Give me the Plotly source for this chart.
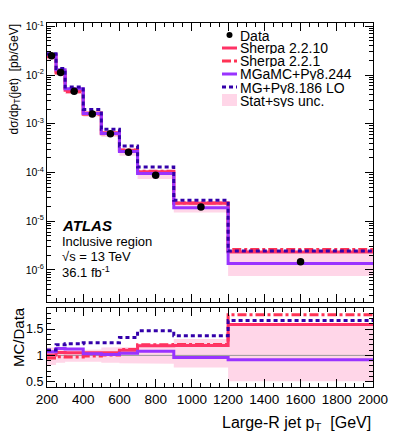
import plotly.graph_objects as go

# ---------------- data ----------------
bin_edges = [200, 250, 300, 400, 500, 600, 700, 900, 1200, 2000]
data_xsec = [2.48e-2, 1.13e-2, 4.65e-3, 1.58e-3, 6.2e-4, 2.6e-4, 8.8e-5, 1.96e-5, 1.48e-6]
sherpa_2210 = [2.50e-2, 1.19e-2, 4.88e-3, 1.66e-3, 6.51e-4, 2.86e-4, 1.04e-4, 2.33e-5, 2.35e-6]
sherpa_221 = [2.36e-2, 1.10e-2, 4.51e-3, 1.56e-3, 6.26e-4, 2.89e-4, 1.06e-4, 2.37e-5, 2.62e-6]
mgamc_py8244 = [2.65e-2, 1.28e-2, 5.21e-3, 1.63e-3, 6.32e-4, 2.70e-4, 9.50e-5, 1.88e-5, 1.36e-6]
mg_py8186_lo = [2.73e-2, 1.36e-2, 5.67e-3, 1.96e-3, 7.69e-4, 3.48e-4, 1.29e-4, 2.69e-5, 2.46e-6]
unc_up = [0.15, 0.12, 0.10, 0.11, 0.15, 0.16, 0.22, 0.31, 0.60]
unc_down = [0.18, 0.14, 0.12, 0.12, 0.14, 0.15, 0.16, 0.23, 0.49]

series_names = ["Sherpa 2.2.10", "Sherpa 2.2.1", "MGaMC+Py8.244", "MG+Py8.186 LO"]
series_vals = [sherpa_2210, sherpa_221, mgamc_py8244, mg_py8186_lo]
series_colors = ["#ff3366", "#ff3355", "#9933ff", "#3300aa"]
series_dash = ["solid", "9px,3px,3px,3px", "solid", "4px,3px"]
draw_order = [1, 0, 2, 3]

x_ticks = [200, 400, 600, 800, 1000, 1200, 1400, 1600, 1800, 2000]
main_y_exps = [-6, -5, -4, -3, -2, -1]
ratio_ticks = [0.5, 1, 1.5]

band_color = "#ffd6e8"
FONT = "Liberation Sans, Arial, sans-serif"

# ---------------- geometry helpers (page pixels) ----------------
PAGE_W, PAGE_H = 399, 440
OFF = 8  # default body margin of the html page
W, H = PAGE_W - OFF, PAGE_H - OFF
L, R, T, B = 47, 373, 23, 387  # plot area in page pixels
PW, PH = R - L, B - T


def px(xp):
    return (xp - L) / PW


def py(yp):
    return (B - yp) / PH


def step(vals):
    return bin_edges, list(vals) + [vals[-1]]


def band(lo, hi):
    xs, ys = [], []
    for i in range(len(lo)):
        xs += [bin_edges[i], bin_edges[i + 1]]
        ys += [hi[i], hi[i]]
    for i in reversed(range(len(lo))):
        xs += [bin_edges[i + 1], bin_edges[i]]
        ys += [lo[i], lo[i]]
    return xs, ys


fig = go.Figure()

centers = [(bin_edges[i] + bin_edges[i + 1]) / 2 for i in range(len(data_xsec))]

# ---------------- main panel ----------------
lo_main = [d * (1 - u) for d, u in zip(data_xsec, unc_down)]
hi_main = [d * (1 + u) for d, u in zip(data_xsec, unc_up)]
bx, by = band(lo_main, hi_main)
fig.add_trace(go.Scatter(x=bx, y=by, fill="toself", fillcolor=band_color,
                         line=dict(width=0), mode="lines", hoverinfo="skip",
                         showlegend=False, xaxis="x", yaxis="y"))
for k in draw_order:
    sx, sy = step(series_vals[k])
    fig.add_trace(go.Scatter(x=sx, y=sy, mode="lines", line_shape="hv",
                             line=dict(color=series_colors[k], width=3, dash=series_dash[k]),
                             name=series_names[k], showlegend=False,
                             xaxis="x", yaxis="y"))
fig.add_trace(go.Scatter(x=centers, y=data_xsec, mode="markers",
                         marker=dict(color="black", size=7.5), name="Data",
                         showlegend=False, xaxis="x", yaxis="y"))

# ---------------- ratio panel ----------------
lo_r = [1 - u for u in unc_down]
hi_r = [1 + u for u in unc_up]
rx, ry = band(lo_r, hi_r)
fig.add_trace(go.Scatter(x=rx, y=ry, fill="toself", fillcolor=band_color,
                         line=dict(width=0), mode="lines", hoverinfo="skip",
                         showlegend=False, xaxis="x2", yaxis="y2"))
fig.add_trace(go.Scatter(x=[bin_edges[0], bin_edges[-1]], y=[1, 1], mode="lines",
                         line=dict(color="#999999", width=1), showlegend=False,
                         hoverinfo="skip", xaxis="x2", yaxis="y2"))
for k in draw_order:
    ratio = [m / d for m, d in zip(series_vals[k], data_xsec)]
    sx, sy = step(ratio)
    fig.add_trace(go.Scatter(x=sx, y=sy, mode="lines", line_shape="hv",
                             line=dict(color=series_colors[k], width=3, dash=series_dash[k]),
                             showlegend=False, xaxis="x2", yaxis="y2"))

# ---------------- axes ----------------
top_dom = [(B - 302) / PH, 1]
bot_dom = [0, (B - 308) / PH]

minor_log = [m * 10 ** e for e in range(-7, 0) for m in range(2, 10)]

axis_common = dict(showline=True, linecolor="black", linewidth=1, mirror="allticks",
                   ticks="inside", tickcolor="black", showgrid=False, zeroline=False,
                   automargin=False)

fig.update_layout(
    template="none",
    width=W, height=H,
    margin=dict(l=L - OFF, r=W - (R - OFF), t=T - OFF, b=H - (B - OFF), autoexpand=False),
    paper_bgcolor="white", plot_bgcolor="white",
    font=dict(family=FONT, color="black"),
    showlegend=False,
    xaxis=dict(**axis_common, domain=[0, 1], anchor="y", range=[200, 2000],
               tickvals=x_ticks, ticklen=8, showticklabels=False,
               minor=dict(dtick=50, tick0=200, ticks="inside", ticklen=4,
                          tickcolor="black", showgrid=False)),
    yaxis=dict(**axis_common, domain=top_dom, anchor="x", type="log",
               range=[-6.657, -0.933],
               tickvals=[10 ** e for e in main_y_exps],
               ticktext=["10<sup>%d</sup>" % e for e in main_y_exps],
               ticklen=8, tickfont=dict(size=10.5),
               minor=dict(tickvals=minor_log, ticks="inside", ticklen=4,
                          tickcolor="black", showgrid=False)),
    xaxis2=dict(**axis_common, domain=[0, 1], anchor="y2", range=[200, 2000],
                tickvals=x_ticks, ticktext=[str(v) for v in x_ticks], ticklen=8,
                tickfont=dict(size=13.5),
                minor=dict(dtick=50, tick0=200, ticks="inside", ticklen=4,
                           tickcolor="black", showgrid=False)),
    yaxis2=dict(**axis_common, domain=bot_dom, anchor="x2", range=[0.4, 1.9],
                tickvals=ratio_ticks, ticktext=["0.5", "1", "1.5"], ticklen=8,
                tickfont=dict(size=12.5),
                minor=dict(dtick=0.1, tick0=0, ticks="inside", ticklen=4,
                           tickcolor="black", showgrid=False)),
)

# ---------------- text ----------------
ann = []
ann.append(dict(x=px(14), y=py(22), xref="paper", yref="paper", textangle=-90,
                text="dσ/dp<sub>T</sub>(jet)  [pb/GeV]", showarrow=False,
                xanchor="center", yanchor="top", font=dict(size=12)))
ann.append(dict(x=px(18), y=py(337), xref="paper", yref="paper", textangle=-90,
                text="MC/Data", showarrow=False, xanchor="center", yanchor="middle",
                font=dict(size=15)))
ann.append(dict(x=px(373), y=py(423), xref="paper", yref="paper",
                text="Large-R jet p<sub>T</sub>  [GeV]", showarrow=False,
                xanchor="right", yanchor="middle", font=dict(size=16)))
ann.append(dict(x=px(60), y=py(225), xref="paper", yref="paper",
                text="<b><i>ATLAS</i></b>", showarrow=False, xanchor="left",
                yanchor="middle", font=dict(size=15)))
for txt, yy in [("Inclusive region", 241), ("√s = 13 TeV", 257),
                ("36.1 fb<sup>-1</sup>", 272)]:
    ann.append(dict(x=px(60), y=py(yy), xref="paper", yref="paper", text=txt,
                    showarrow=False, xanchor="left", yanchor="middle",
                    font=dict(size=13)))

# manual legend
leg_y = [35, 48, 61, 74, 87, 100]
leg_labels = ["Data"] + series_names + ["Stat+sys unc."]
for lbl, yy in zip(leg_labels, leg_y):
    ann.append(dict(x=px(239), y=py(yy), xref="paper", yref="paper", text=lbl,
                    showarrow=False, xanchor="left", yanchor="middle",
                    height=13, borderpad=0, valign="middle",
                    font=dict(size=14)))

shapes = []
shapes.append(dict(type="circle", xref="paper", yref="paper",
                   x0=px(226.5), x1=px(232.5), y0=py(leg_y[0] + 3), y1=py(leg_y[0] - 3),
                   fillcolor="black", line=dict(width=0)))
for k in range(4):
    shapes.append(dict(type="line", xref="paper", yref="paper",
                       x0=px(222), x1=px(237), y0=py(leg_y[k + 1]), y1=py(leg_y[k + 1]),
                       line=dict(color=series_colors[k], width=3, dash=series_dash[k])))
shapes.append(dict(type="rect", xref="paper", yref="paper",
                   x0=px(222), x1=px(237), y0=py(leg_y[5] + 6), y1=py(leg_y[5] - 6),
                   fillcolor=band_color, line=dict(width=0)))

fig.update_layout(annotations=ann, shapes=shapes)

fig.write_html("out.html")
